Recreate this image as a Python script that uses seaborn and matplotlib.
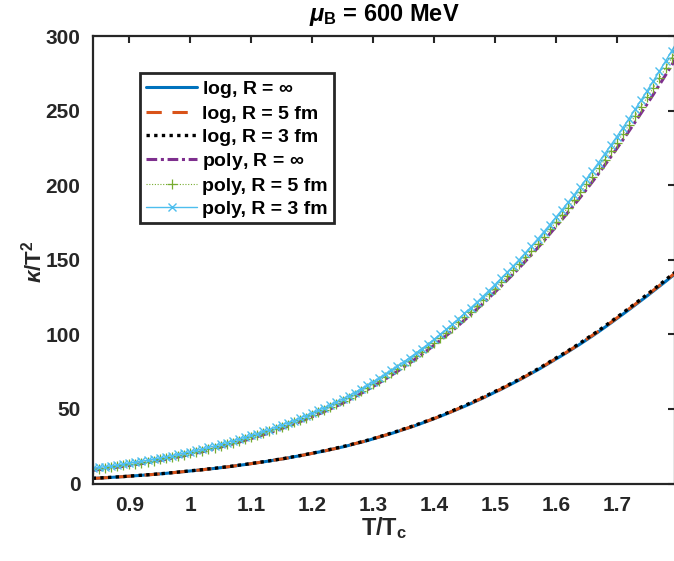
import numpy as np
import matplotlib
matplotlib.use("Agg")
import matplotlib.pyplot as plt
import seaborn as sns
from matplotlib.ticker import FuncFormatter

# ---------------- data ----------------
# sample temperatures T/Tc (0.84 ... 1.80, step 0.01)
T = np.round(np.arange(0.84, 1.8001, 0.01), 2)

log_inf = [3.4, 3.6, 3.85, 4.1, 4.35, 4.6, 4.9, 5.2, 5.5, 5.8,
           6.1, 6.45, 6.8, 7.2, 7.6, 8.0, 8.4, 8.8, 9.2, 9.7,
           10.1, 10.6, 11.1, 11.6, 12.2, 12.7, 13.3, 13.9, 14.5, 15.1,
           15.8, 16.4, 17.1, 17.9, 18.6, 19.4, 20.2, 21.0, 21.8, 22.7,
           23.6, 24.5, 25.5, 26.6, 27.6, 28.7, 29.9, 31.1, 32.3, 33.5,
           34.8, 36.2, 37.5, 38.9, 40.4, 41.9, 43.4, 45.0, 46.6, 48.3,
           50.0, 51.7, 53.5, 55.4, 57.2, 59.2, 61.2, 63.1, 65.2, 67.3,
           69.4, 71.6, 73.9, 76.1, 78.5, 80.9, 83.4, 85.8, 88.3, 90.9,
           93.5, 96.2, 98.9, 101.7, 104.6, 107.5, 110.5, 113.5, 116.5, 119.6,
           122.7, 125.8, 129.0, 132.2, 135.4, 138.7, 142.0]
log_5fm = [3.4, 3.6, 3.85, 4.1, 4.35, 4.6, 4.9, 5.2, 5.5, 5.8,
           6.1, 6.45, 6.8, 7.2, 7.6, 8.0, 8.4, 8.8, 9.2, 9.7,
           10.1, 10.6, 11.1, 11.6, 12.2, 12.7, 13.3, 13.9, 14.5, 15.1,
           15.8, 16.4, 17.1, 17.9, 18.6, 19.4, 20.2, 21.0, 21.8, 22.7,
           23.6, 24.5, 25.6, 26.7, 27.7, 28.8, 30.0, 31.2, 32.4, 33.6,
           34.9, 36.3, 37.6, 39.0, 40.5, 42.0, 43.5, 45.1, 46.7, 48.4,
           50.2, 51.9, 53.7, 55.6, 57.4, 59.4, 61.4, 63.3, 65.4, 67.5,
           69.6, 71.8, 74.1, 76.4, 78.8, 81.2, 83.7, 86.1, 88.6, 91.2,
           93.8, 96.6, 99.3, 102.1, 105.0, 107.9, 110.9, 113.9, 117.0, 120.1,
           123.2, 126.3, 129.5, 132.7, 135.9, 139.2, 142.5]
log_3fm = [3.5, 3.7, 3.9, 4.15, 4.4, 4.65, 4.95, 5.25, 5.55, 5.85,
           6.15, 6.5, 6.85, 7.25, 7.65, 8.05, 8.5, 8.9, 9.3, 9.8,
           10.2, 10.7, 11.2, 11.7, 12.3, 12.8, 13.4, 14.0, 14.6, 15.2,
           15.9, 16.5, 17.2, 18.0, 18.7, 19.5, 20.3, 21.1, 22.0, 22.9,
           23.8, 24.7, 25.7, 26.8, 27.8, 28.9, 30.1, 31.3, 32.5, 33.8,
           35.1, 36.5, 37.8, 39.2, 40.7, 42.2, 43.7, 45.3, 47.0, 48.7,
           50.5, 52.2, 54.0, 55.9, 57.7, 59.7, 61.7, 63.6, 65.7, 67.8,
           69.9, 72.1, 74.4, 76.7, 79.1, 81.6, 84.1, 86.5, 89.0, 91.6,
           94.2, 97.0, 99.7, 102.5, 105.4, 108.4, 111.4, 114.4, 117.5, 120.6,
           123.7, 126.8, 130.0, 133.2, 136.5, 139.8, 143.1]
poly_inf = [8.8, 9.3, 9.8, 10.3, 10.9, 11.5, 12.1, 12.7, 13.3, 14.0,
            14.7, 15.4, 16.2, 17.0, 17.8, 18.6, 19.5, 20.4, 21.3, 22.3,
            23.3, 24.4, 25.4, 26.5, 27.7, 28.9, 30.1, 31.4, 32.7, 34.0,
            35.4, 36.8, 38.3, 39.8, 41.4, 43.0, 44.7, 46.4, 48.2, 50.0,
            51.9, 53.8, 55.9, 58.1, 60.3, 62.6, 65.0, 67.4, 69.9, 72.5,
            75.2, 77.9, 80.7, 83.6, 86.5, 89.5, 92.6, 95.8, 99.1, 102.4,
            105.9, 109.5, 113.0, 116.7, 120.5, 124.4, 128.3, 132.3, 136.3, 140.4,
            144.6, 149.0, 153.4, 157.9, 162.5, 167.3, 172.1, 176.9, 181.8, 186.8,
            191.8, 197.0, 202.3, 207.7, 213.3, 218.9, 224.6, 230.4, 236.3, 242.3,
            248.4, 254.6, 260.9, 267.3, 273.8, 280.4, 287.1]
poly_5fm = [9.4, 9.9, 10.4, 11.0, 11.6, 12.2, 12.8, 13.4, 14.0, 14.7,
            15.4, 16.1, 16.9, 17.8, 18.6, 19.4, 20.3, 21.2, 22.1, 23.1,
            24.1, 25.3, 26.3, 27.4, 28.6, 29.8, 31.1, 32.4, 33.7, 35.0,
            36.4, 37.9, 39.4, 40.9, 42.5, 44.1, 45.9, 47.6, 49.4, 51.3,
            53.2, 55.1, 57.2, 59.5, 61.7, 64.0, 66.5, 68.9, 71.5, 74.1,
            76.8, 79.6, 82.4, 85.4, 88.3, 91.3, 94.5, 97.7, 101.1, 104.4,
            108.0, 111.6, 115.2, 118.9, 122.8, 126.8, 130.7, 134.8, 138.8, 143.0,
            147.3, 151.7, 156.2, 160.8, 165.4, 170.3, 175.2, 180.1, 185.0, 190.1,
            195.2, 200.5, 205.8, 211.3, 217.0, 222.7, 228.5, 234.4, 240.3, 246.4,
            252.6, 258.9, 265.3, 271.8, 278.4, 285.1, 291.9]
poly_3fm = [10.3, 10.8, 11.3, 11.8, 12.4, 13.0, 13.7, 14.3, 14.9, 15.6,
            16.3, 17.1, 17.9, 18.7, 19.5, 20.4, 21.3, 22.2, 23.1, 24.2,
            25.2, 26.3, 27.4, 28.5, 29.7, 31.0, 32.2, 33.5, 34.9, 36.2,
            37.7, 39.1, 40.6, 42.2, 43.8, 45.5, 47.2, 49.0, 50.8, 52.7,
            54.7, 56.6, 58.8, 61.0, 63.3, 65.7, 68.2, 70.6, 73.2, 75.9,
            78.7, 81.4, 84.3, 87.3, 90.3, 93.4, 96.6, 99.9, 103.3, 106.7,
            110.3, 114.0, 117.6, 121.4, 125.3, 129.3, 133.3, 137.5, 141.6, 145.8,
            150.1, 154.7, 159.2, 163.8, 168.6, 173.5, 178.5, 183.4, 188.5, 193.6,
            198.8, 204.1, 209.6, 215.1, 220.9, 226.7, 232.5, 238.5, 244.6, 250.8,
            257.1, 263.4, 269.9, 276.5, 283.2, 290.0, 296.9]

labels = ["log, R = $\\mathbf{\\infty}$", "log, R = 5 fm", "log, R = 3 fm",
          "poly, R = $\\mathbf{\\infty}$", "poly, R = 5 fm", "poly, R = 3 fm"]
x_ticks = [0.9, 1.0, 1.1, 1.2, 1.3, 1.4, 1.5, 1.6, 1.7]
y_ticks = [0, 50, 100, 150, 200, 250, 300]

# ---------------- style ----------------
sns.set_theme(style="white")
plt.rcParams["font.family"] = ["Liberation Sans", "DejaVu Sans"]
plt.rcParams["font.weight"] = "bold"
plt.rcParams["mathtext.fontset"] = "custom"
plt.rcParams["mathtext.rm"] = "Liberation Sans:bold"
plt.rcParams["mathtext.it"] = "Liberation Sans:italic"
plt.rcParams["mathtext.bf"] = "Liberation Sans:bold"
plt.rcParams["mathtext.fallback"] = "cm"

ink = "#262626"

fig = plt.figure(figsize=(6.74, 5.61), dpi=100)
L, R, B, Tp = 93, 675, 483.5, 36
ax = fig.add_axes([L / 674, 1 - B / 561, (R - L) / 674, (B - Tp) / 561])

series = [
    (log_inf, "#0072BD", "-", 2.2, None, 0, 0),
    (log_5fm, "#D95319", (0, (5, 3.5)), 2.2, None, 0, 0),
    (log_3fm, "black", (0, (1, 1.3)), 2.4, None, 0, 0),
    (poly_inf, "#7E2F8E", (0, (3.5, 1.2, 1, 1.2)), 2.2, None, 0, 0),
    (poly_5fm, "#77AC30", (0, (1, 1.5)), 0.8, "+", 7, 0.9),
    (poly_3fm, "#4DBEEE", "-", 1.0, "x", 6, 1.0),
]

for (vals, col, ls, lw, mk, ms, mew), lab in zip(series, labels):
    kw = dict(color=col, linestyle=ls, linewidth=lw, label=lab)
    if mk is not None:
        kw.update(marker=mk, markersize=ms, markeredgewidth=mew,
                  markeredgecolor=col, markerfacecolor=col)
    sns.lineplot(x=T, y=vals, ax=ax, estimator=None, sort=False, **kw)

ax.set_xlim(0.8405, 1.7955)
ax.set_ylim(0, 300)
ax.set_xticks(x_ticks)
ax.set_yticks(y_ticks)
ax.xaxis.set_major_formatter(FuncFormatter(lambda v, p: f"{v:g}"))
ax.tick_params(direction="in", length=5, width=1.5, colors=ink,
               labelsize=15, top=True, right=True, pad=9)
for lab in ax.get_xticklabels() + ax.get_yticklabels():
    lab.set_fontweight("bold")
    lab.set_color(ink)
for s in ax.spines.values():
    s.set_linewidth(1.6)
    s.set_color(ink)
ax.grid(False)

fig.text(384 / 674, 1 - 528 / 561, "T/T$_\\mathbf{c}$", ha="center", va="center",
         fontsize=17, fontweight="bold", color=ink)
fig.text(34 / 674, 1 - 262 / 561, "$\\kappa$/T$^\\mathbf{2}$", ha="center", va="center",
         rotation=90, fontsize=16, fontweight="bold", color=ink)
fig.text(384 / 674, 1 - 15 / 561, "$\\mu_\\mathbf{B}$ = 600 MeV", ha="center", va="center",
         fontsize=17, fontweight="bold", color="black")

leg = ax.legend(loc="upper left", bbox_to_anchor=((140 - L) / (R - L), (B - 73) / (B - Tp)),
                borderaxespad=0, frameon=True, fancybox=False, framealpha=1,
                edgecolor=ink, prop={"weight": "bold", "size": 14},
                handlelength=2.65, handletextpad=0.25, labelspacing=0.27,
                borderpad=0.3, numpoints=1)
leg.get_frame().set_linewidth(2)
for t in leg.get_texts():
    t.set_color("black")

fig.savefig("out.png", dpi=100)
